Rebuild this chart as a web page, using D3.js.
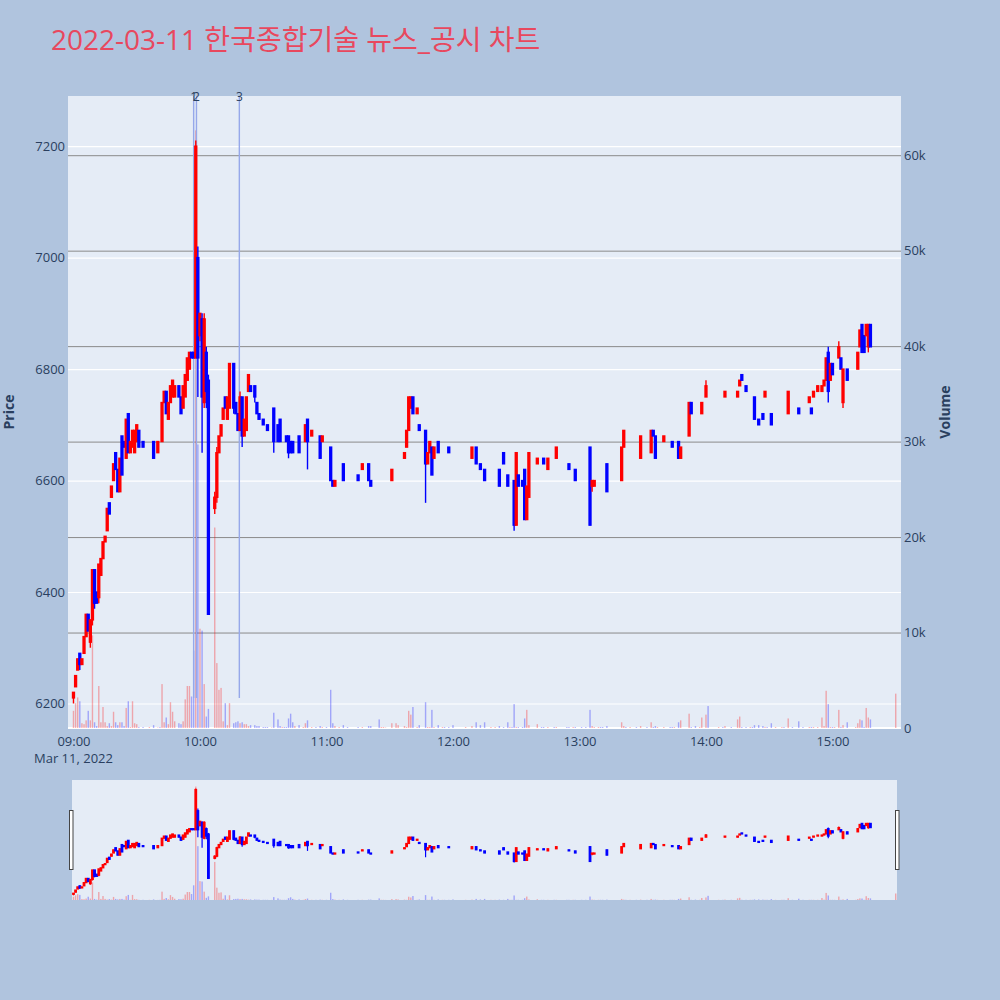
<!DOCTYPE html>
<html>
<head>
<meta charset="utf-8">
<script src="https://cdn.jsdelivr.net/npm/d3@7"></script>
<style>
  body { margin: 0; background: #b0c4de; }
  svg { display: block; font-family: "Open Sans", "Noto Sans CJK KR", sans-serif; }
</style>
</head>
<body>
<script>
var chartTitle = "2022-03-11 한국종합기술 뉴스_공시 차트";

// one-minute candles
var times = [
  "09:00","09:01","09:02","09:03","09:04","09:05","09:06","09:07","09:08","09:09",
  "09:10","09:11","09:12","09:13","09:14","09:15","09:16","09:17","09:18","09:19",
  "09:20","09:21","09:22","09:23","09:24","09:25","09:26","09:27","09:28","09:29",
  "09:30","09:31","09:33","09:36","09:38","09:40","09:41","09:42","09:43","09:44",
  "09:45","09:46","09:47","09:48","09:50","09:51","09:52","09:53","09:54","09:55",
  "09:56","09:57","09:58","09:59","10:00","10:01","10:02","10:03","10:04","10:07",
  "10:08","10:09","10:10","10:11","10:12","10:13","10:14","10:16","10:17","10:18",
  "10:19","10:20","10:21","10:22","10:23","10:24","10:26","10:27","10:28","10:30",
  "10:31","10:32","10:34","10:35","10:37","10:38","10:39","10:40","10:41","10:42",
  "10:43","10:44","10:45","10:47","10:49","10:50","10:51","10:53","10:55","10:57",
  "10:58","11:00","11:02","11:03","11:04","11:06","11:08","11:10","11:15","11:17",
  "11:20","11:21","11:25","11:26","11:27","11:28","11:31","11:33","11:34","11:37",
  "11:38","11:39","11:40","11:41","11:43","11:44","11:47","11:48","11:49","11:50",
  "11:51","11:53","11:55","11:56","11:58","12:00","12:06","12:09","12:11","12:13",
  "12:15","12:18","12:20","12:22","12:24","12:26","12:27","12:28","12:29","12:30",
  "12:31","12:33","12:34","12:35","12:36","12:40","12:42","12:43","12:45","12:48",
  "12:49","12:54","12:55","12:57","12:58","13:01","13:03","13:05","13:06","13:07",
  "13:09","13:10","13:11","13:13","13:20","13:21","13:22","13:24","13:27","13:29",
  "13:32","13:34","13:35","13:36","13:37","13:40","13:43","13:44","13:45","13:47",
  "13:48","13:52","13:53","13:55","13:57","13:58","14:00","14:01","14:06","14:08",
  "14:09","14:12","14:15","14:16","14:17","14:19","14:21","14:22","14:23","14:25",
  "14:27","14:28","14:29","14:31","14:33","14:36","14:37","14:39","14:41","14:44",
  "14:46","14:49","14:50","14:51","14:53","14:55","14:56","14:57","14:58","14:59",
  "15:00","15:01","15:03","15:04","15:05","15:07","15:11","15:12","15:13","15:14",
  "15:15","15:16","15:17","15:18","15:30"
];

var opens = [
  6210,6230,6260,6290,6270,6290,6320,6360,6310,6350,
  6440,6400,6390,6430,6460,6490,6510,6560,6570,6600,
  6650,6620,6580,6680,6670,6640,6720,6650,6660,6650,
  6670,6690,6670,6670,6670,6650,6660,6670,6740,6760,
  6710,6740,6750,6750,6770,6750,6730,6750,6780,6800,
  6830,6830,6820,7000,6860,6890,6740,6830,6780,6550,
  6570,6650,6680,6710,6750,6710,6730,6810,6740,6720,
  6690,6750,6680,6690,6760,6770,6770,6740,6720,6710,
  6700,6700,6730,6730,6700,6710,6690,6680,6680,6680,
  6670,6670,6670,6680,6660,6670,6710,6680,6670,6680,
  6670,6670,6660,6600,6590,6630,6630,6590,6610,6620,
  6630,6600,6580,6610,6610,6610,6600,6630,6640,6640,
  6660,6690,6730,6750,6720,6700,6690,6630,6650,6660,
  6640,6670,6670,6650,6660,6640,6660,6640,6660,6630,
  6620,6610,6630,6620,6650,6610,6630,6600,6600,6520,
  6610,6600,6620,6530,6570,6630,6630,6640,6620,6620,
  6640,6630,6630,6630,6620,6600,6600,6660,6590,6590,
  6610,6590,6590,6630,6600,6660,6640,6690,6640,6640,
  6650,6650,6690,6680,6650,6670,6670,6670,6670,6670,
  6640,6680,6740,6710,6720,6720,6750,6740,6770,6740,
  6750,6750,6750,6770,6790,6770,6770,6760,6750,6710,
  6720,6750,6710,6720,6710,6720,6710,6720,6740,6730,
  6720,6740,6730,6750,6760,6760,6770,6780,6830,6780,
  6810,6800,6820,6820,6740,6800,6800,6800,6840,6880,
  6860,6860,6840,6880,6900
];

var highs = [
  6220,6250,6280,6290,6280,6320,6360,6360,6350,6440,
  6440,6400,6450,6460,6490,6500,6550,6560,6590,6630,
  6650,6620,6640,6680,6670,6710,6720,6670,6690,6690,
  6700,6690,6670,6670,6670,6670,6660,6740,6760,6760,
  6740,6770,6780,6770,6770,6750,6770,6790,6820,6830,
  6830,6830,7210,7020,6900,6900,6900,6840,6790,6580,
  6660,6680,6700,6730,6750,6750,6810,6810,6740,6720,
  6760,6750,6710,6750,6790,6770,6770,6740,6720,6710,
  6700,6700,6730,6730,6700,6710,6690,6680,6680,6680,
  6670,6670,6670,6680,6660,6700,6710,6690,6670,6680,
  6680,6670,6660,6600,6600,6630,6630,6590,6610,6630,
  6630,6600,6580,6610,6610,6610,6620,6630,6640,6650,
  6690,6750,6750,6750,6730,6700,6690,6650,6670,6660,
  6660,6670,6670,6650,6660,6640,6660,6660,6660,6630,
  6620,6610,6630,6620,6650,6610,6630,6600,6600,6650,
  6610,6600,6620,6590,6650,6640,6630,6640,6640,6620,
  6660,6630,6630,6630,6620,6600,6600,6660,6600,6600,
  6610,6590,6590,6630,6660,6690,6640,6690,6640,6680,
  6650,6690,6690,6680,6650,6680,6670,6670,6670,6670,
  6660,6740,6740,6710,6720,6740,6780,6740,6770,6740,
  6760,6750,6760,6780,6790,6770,6770,6760,6750,6710,
  6720,6760,6710,6720,6710,6720,6710,6760,6740,6730,
  6720,6750,6730,6760,6770,6770,6780,6820,6840,6810,
  6810,6800,6850,6820,6800,6800,6800,6830,6870,6880,
  6860,6880,6880,6880,6900
];

var lows = [
  6200,6230,6260,6260,6270,6290,6320,6330,6300,6340,
  6370,6380,6380,6430,6460,6490,6510,6540,6570,6600,
  6620,6580,6580,6610,6660,6640,6650,6650,6660,6650,
  6670,6660,6660,6670,6640,6650,6660,6670,6740,6720,
  6710,6740,6750,6750,6750,6720,6730,6750,6780,6800,
  6820,6820,6820,6750,6850,6650,6730,6730,6360,6540,
  6560,6650,6680,6710,6730,6710,6730,6720,6720,6690,
  6690,6660,6680,6690,6760,6760,6740,6720,6710,6700,
  6700,6690,6730,6650,6670,6670,6690,6680,6670,6640,
  6650,6650,6670,6650,6660,6670,6620,6680,6670,6640,
  6670,6670,6600,6590,6590,6630,6600,6590,6600,6620,
  6600,6590,6580,6610,6610,6610,6600,6630,6640,6640,
  6660,6690,6730,6720,6720,6690,6560,6630,6650,6610,
  6640,6650,6670,6650,6650,6640,6660,6640,6630,6620,
  6600,6610,6630,6590,6630,6590,6630,6600,6510,6520,
  6590,6590,6530,6530,6570,6630,6630,6630,6620,6620,
  6640,6630,6620,6630,6600,6600,6600,6520,6580,6590,
  6610,6590,6590,6580,6600,6660,6640,6690,6640,6640,
  6650,6650,6680,6640,6650,6670,6670,6660,6670,6640,
  6640,6680,6720,6710,6720,6720,6750,6740,6770,6740,
  6750,6750,6750,6770,6780,6760,6770,6760,6710,6700,
  6710,6750,6710,6700,6710,6720,6710,6720,6740,6720,
  6720,6740,6720,6750,6760,6760,6770,6780,6740,6780,
  6790,6800,6820,6800,6730,6780,6800,6800,6840,6830,
  6830,6860,6830,6840,6900
];

var closes = [
  6220,6250,6280,6270,6280,6320,6360,6330,6350,6440,
  6380,6380,6450,6460,6490,6500,6550,6540,6590,6630,
  6620,6580,6640,6610,6660,6710,6650,6670,6690,6690,
  6700,6660,6660,6670,6640,6670,6660,6740,6760,6720,
  6740,6770,6780,6770,6750,6720,6770,6790,6820,6830,
  6820,6820,7200,6820,6900,6750,6890,6760,6360,6570,
  6650,6680,6700,6730,6730,6750,6810,6730,6720,6690,
  6750,6680,6710,6750,6790,6760,6750,6720,6710,6700,
  6700,6690,6730,6670,6670,6670,6690,6680,6670,6650,
  6650,6650,6670,6650,6660,6700,6670,6690,6670,6640,
  6680,6670,6600,6590,6600,6630,6600,6590,6600,6630,
  6600,6590,6580,6610,6610,6610,6620,6630,6640,6650,
  6690,6750,6750,6720,6730,6690,6630,6650,6670,6610,
  6660,6650,6670,6650,6650,6640,6660,6660,6630,6620,
  6600,6610,6630,6590,6630,6590,6630,6600,6520,6650,
  6590,6590,6530,6590,6650,6640,6630,6630,6640,6620,
  6660,6630,6620,6630,6600,6600,6600,6520,6600,6600,
  6610,6590,6590,6580,6660,6690,6640,6690,6640,6680,
  6650,6690,6680,6640,6650,6680,6670,6660,6670,6640,
  6660,6740,6720,6710,6720,6740,6770,6740,6770,6740,
  6760,6750,6760,6780,6780,6760,6770,6760,6710,6700,
  6710,6760,6710,6700,6710,6720,6710,6760,6740,6720,
  6720,6750,6720,6760,6770,6770,6780,6820,6760,6810,
  6790,6800,6840,6800,6800,6780,6800,6830,6870,6830,
  6830,6880,6880,6840,6900
];

var volumes = [
  1800,2600,3200,2800,500,400,800,1800,800,9700,
  600,200,4400,600,2200,600,200,500,200,1700,
  600,300,600,600,200,2100,2800,100,2800,500,
  400,100,100,100,300,50,100,4600,600,1100,
  400,2700,1700,700,500,400,700,3000,4400,4400,
  3300,8100,62600,29700,10400,10200,4600,1200,2000,21000,
  6800,4000,4200,700,2600,300,2600,500,600,700,
  500,600,400,400,200,300,300,200,200,100,
  100,100,50,1600,900,200,100,100,100,1000,
  1500,600,200,300,100,500,800,100,100,200,
  100,100,4000,500,200,100,300,100,100,100,
  200,200,900,100,100,50,500,500,300,200,
  100,1800,1400,2200,100,300,2700,100,100,1900,
  100,300,100,100,100,300,100,200,600,300,
  600,100,100,200,100,600,100,100,2500,100,
  100,100,1000,1900,300,400,100,100,100,100,
  100,100,100,100,100,100,100,1900,200,100,
  100,100,100,200,600,200,100,100,100,200,
  100,600,100,200,100,100,100,100,100,600,
  800,1500,100,200,100,1100,1400,2300,100,100,
  200,100,900,1200,100,100,100,100,300,300,
  200,100,100,500,100,100,100,1000,100,700,
  100,100,100,100,100,1100,200,3900,2500,100,
  100,100,1900,100,300,600,100,500,900,800,
  100,2100,1100,900,3600
];

// news / disclosure markers
var newsTimes = ["09:57:00", "09:58:20", "10:18:40"];
var newsLabels = ["1", "2", "3"];
var newsLineLow = 6210;

// axes
var xStart = "08:57:24", xEnd = "15:32:30";
var hourTicks = ["09:00","10:00","11:00","12:00","13:00","14:00","15:00"];
var priceRange = [6156, 7290];
var priceTicks = [6200, 6400, 6600, 6800, 7000, 7200];
var volumeRange = [0, 66200];
var volumeTicks = [0, 10000, 20000, 30000, 40000, 50000, 60000];

var svg,
    textColor = "#2a3f5f",
    upColor = "#ff0000",
    downColor = "#0000ff",
    plot = { left: 68, right: 901, top: 96, bottom: 728 },
    slider = { left: 72, right: 897, top: 780, bottom: 900 };

function parseClock(s) {
  var p = s.split(":");
  return new Date(2022, 2, 11, +p[0], +p[1], +(p[2] || 0));
}

function buildCandles() {
  var result = [], prevClose = null, prevUp = true;
  times.forEach(function(t, i) {
    var o = opens[i], c = closes[i], up;
    // same rule plotly uses: flat candles look at the previous close
    if (c > o) up = true;
    else if (c < o) up = false;
    else if (prevClose !== null && c > prevClose) up = true;
    else if (prevClose !== null && c < prevClose) up = false;
    else up = prevUp;
    result.push({ t: parseClock(t), o: o, h: Math.max(highs[i], o, c), l: Math.min(lows[i], o, c),
                  c: c, v: volumes[i], up: up });
    prevClose = c;
    prevUp = up;
  });
  return result;
}

function init() {
  var candles = buildCandles();
  svg = d3.select("body").append("svg").attr("width", 1000).attr("height", 1000);
  svg.append("rect").attr("width", 1000).attr("height", 1000).attr("fill", "#b0c4de");

  svg.append("text")
    .attr("x", 51).attr("y", 50)
    .attr("font-size", 28)
    .attr("fill", "#e8485e")
    .text(chartTitle);

  var x = d3.scaleTime().domain([parseClock(xStart), parseClock(xEnd)]).range([plot.left, plot.right]);
  var yPrice = d3.scaleLinear().domain(priceRange).range([plot.bottom, plot.top]);
  var yVol = d3.scaleLinear().domain(volumeRange).range([plot.bottom, plot.top]);

  drawMainPlot(candles, x, yPrice, yVol);
  drawSlider(candles, x);
}

function drawMainPlot(candles, x, yPrice, yVol) {
  var w = plot.right - plot.left;
  svg.append("rect")
    .attr("x", plot.left).attr("y", plot.top)
    .attr("width", w).attr("height", plot.bottom - plot.top)
    .attr("fill", "#e5ecf6");

  // price grid (white) and volume grid (gray)
  var priceGrid = svg.append("g")
    .attr("transform", "translate(" + plot.left + ",0)")
    .call(d3.axisLeft(yPrice).tickValues(priceTicks).tickSize(-w).tickFormat(""));
  priceGrid.select(".domain").remove();
  priceGrid.selectAll("line").attr("stroke", "#ffffff").attr("stroke-width", 1.2);

  var volGrid = svg.append("g")
    .attr("transform", "translate(" + plot.right + ",0)")
    .call(d3.axisRight(yVol).tickValues(volumeTicks.slice(1)).tickSize(-w).tickFormat(""));
  volGrid.select(".domain").remove();
  volGrid.selectAll("line").attr("stroke", "#8a8a8a").attr("stroke-width", 1);

  svg.append("line")
    .attr("x1", plot.left).attr("x2", plot.right)
    .attr("y1", yVol(0)).attr("y2", yVol(0))
    .attr("stroke", "#ffffff").attr("stroke-width", 2);

  var clipId = "plotClip";
  svg.append("clipPath").attr("id", clipId).append("rect")
    .attr("x", plot.left).attr("y", plot.top)
    .attr("width", w).attr("height", plot.bottom - plot.top);
  var g = svg.append("g").attr("clip-path", "url(#" + clipId + ")");

  drawVolumeBars(g, candles, x, yVol, 1.4);

  // news marker lines
  newsTimes.forEach(function(t) {
    g.append("line")
      .attr("x1", x(parseClock(t))).attr("x2", x(parseClock(t)))
      .attr("y1", yPrice(newsLineLow)).attr("y2", plot.top)
      .attr("stroke", "#96a8ea").attr("stroke-width", 1.4);
  });

  drawCandles(g, candles, x, yPrice, 1.9, 1.4);

  newsTimes.forEach(function(t, i) {
    svg.append("text")
      .attr("x", x(parseClock(t))).attr("y", plot.top + 4.5)
      .attr("text-anchor", "middle")
      .attr("font-size", 12).attr("fill", textColor)
      .text(newsLabels[i]);
  });

  // axes
  var left = svg.append("g")
    .attr("transform", "translate(" + plot.left + ",0)")
    .call(d3.axisLeft(yPrice).tickValues(priceTicks).tickSize(0).tickPadding(3).tickFormat(d3.format("d")));
  var right = svg.append("g")
    .attr("transform", "translate(" + plot.right + ",0)")
    .call(d3.axisRight(yVol).tickValues(volumeTicks).tickSize(0).tickPadding(3).tickFormat(d3.format("~s")));
  var bottom = svg.append("g")
    .attr("transform", "translate(0," + plot.bottom + ")")
    .call(d3.axisBottom(x).tickValues(hourTicks.map(parseClock)).tickSize(0).tickPadding(9)
      .tickFormat(d3.timeFormat("%H:%M")));
  [left, right, bottom].forEach(function(a) {
    a.select(".domain").remove();
    a.selectAll("text").attr("font-size", 13).attr("fill", textColor)
      .attr("font-family", "\"Open Sans\", sans-serif");
  });

  svg.append("text")
    .attr("x", x(parseClock(hourTicks[0]))).attr("y", 763)
    .attr("text-anchor", "middle")
    .attr("font-size", 13).attr("fill", textColor)
    .text("Mar 11, 2022");

  svg.append("text")
    .attr("transform", "translate(14," + (plot.top + plot.bottom) / 2 + ") rotate(-90)")
    .attr("text-anchor", "middle")
    .attr("font-size", 14).attr("font-weight", "bold").attr("fill", textColor)
    .text("Price");

  svg.append("text")
    .attr("transform", "translate(950," + (plot.top + plot.bottom) / 2 + ") rotate(-90)")
    .attr("text-anchor", "middle")
    .attr("font-size", 14).attr("font-weight", "bold").attr("fill", textColor)
    .text("Volume");
}

function drawVolumeBars(g, candles, x, yVol, barW) {
  g.append("g").selectAll("rect")
    .data(candles)
    .join("rect")
    .attr("x", function(d) { return x(d.t) - barW / 2; })
    .attr("y", function(d) { return yVol(d.v); })
    .attr("width", barW)
    .attr("height", function(d) { return yVol(0) - yVol(d.v); })
    .attr("fill", function(d) { return d.up ? upColor : downColor; })
    .attr("fill-opacity", 0.3);
}

function drawCandles(g, candles, x, y, bodyW, lineW) {
  var c = g.append("g").selectAll("g")
    .data(candles)
    .join("g")
    .attr("stroke", function(d) { return d.up ? upColor : downColor; })
    .attr("fill", function(d) { return d.up ? upColor : downColor; });

  c.append("line")
    .attr("x1", function(d) { return x(d.t); })
    .attr("x2", function(d) { return x(d.t); })
    .attr("y1", function(d) { return y(d.h); })
    .attr("y2", function(d) { return y(d.l); })
    .attr("stroke-width", lineW);

  c.append("rect")
    .attr("x", function(d) { return x(d.t) - bodyW / 2; })
    .attr("y", function(d) { return y(Math.max(d.o, d.c)); })
    .attr("width", bodyW)
    .attr("height", function(d) { return Math.abs(y(d.o) - y(d.c)); })
    .attr("stroke-width", lineW);
}

function drawSlider(candles, x) {
  svg.append("rect")
    .attr("x", slider.left).attr("y", slider.top)
    .attr("width", slider.right - slider.left).attr("height", slider.bottom - slider.top)
    .attr("fill", "#e5ecf6");

  var yPriceMini = d3.scaleLinear().domain(priceRange).range([slider.bottom, slider.top]);
  var yVolMini = d3.scaleLinear().domain(volumeRange).range([slider.bottom, slider.top]);

  svg.append("clipPath").attr("id", "sliderClip").append("rect")
    .attr("x", slider.left).attr("y", slider.top)
    .attr("width", slider.right - slider.left).attr("height", slider.bottom - slider.top);
  var g = svg.append("g").attr("clip-path", "url(#sliderClip)");

  drawVolumeBars(g, candles, x, yVolMini, 1.4);
  drawCandles(g, candles, x, yPriceMini, 1.6, 1.2);

  // grab handles at both ends
  [slider.left - 2.5, slider.right - 1.5].forEach(function(hx) {
    svg.append("rect")
      .attr("x", hx).attr("y", 810.5)
      .attr("width", 3.5).attr("height", 59)
      .attr("fill", "#ffffff").attr("stroke", "#444").attr("stroke-width", 1);
  });
}

init();
</script>
</body>
</html>
